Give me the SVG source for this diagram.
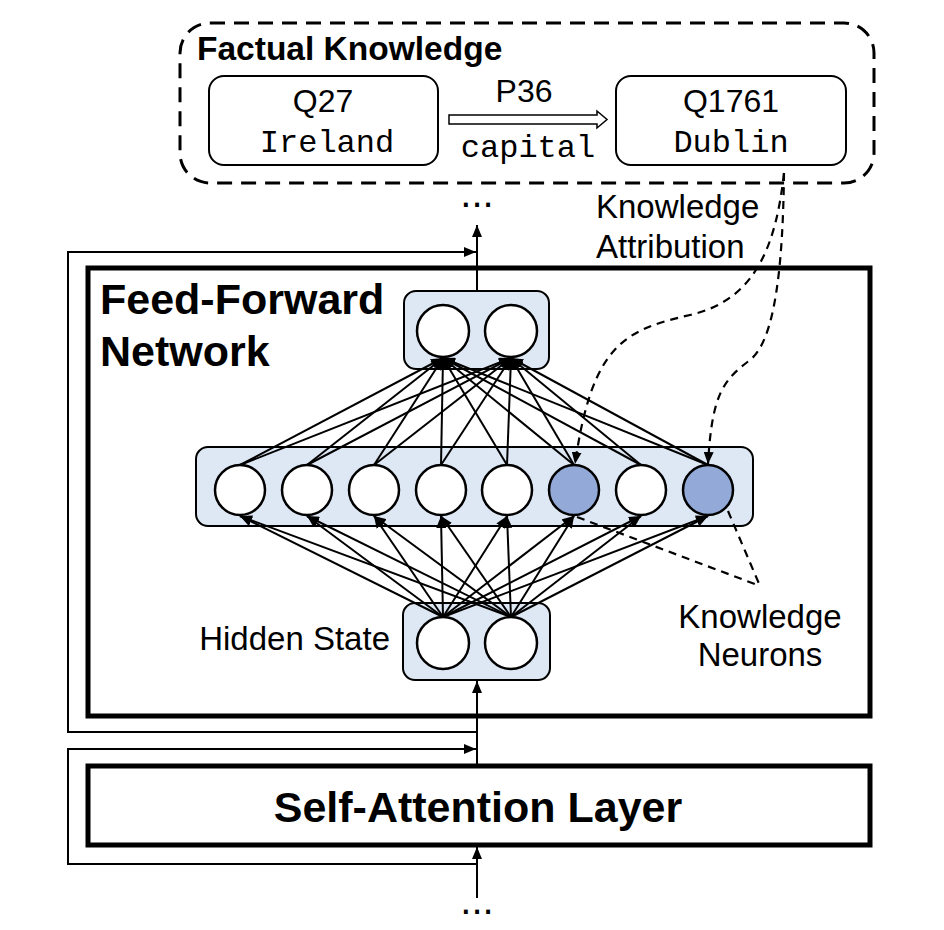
<svg xmlns="http://www.w3.org/2000/svg" width="944" height="930" viewBox="0 0 944 930">
<defs>
<marker id="ah" markerUnits="userSpaceOnUse" markerWidth="12" markerHeight="10" refX="12" refY="5" orient="auto" viewBox="0 0 12 10">
<path d="M0,0 L12,5 L0,10 z" fill="#000"/>
</marker>
</defs>
<style>
.sans{font-family:"Liberation Sans",Arial,sans-serif;fill:#000}
.bold{font-family:"Liberation Sans",Arial,sans-serif;font-weight:bold;fill:#000}
.mono{font-family:"Liberation Mono","Courier New",monospace;fill:#000}
.box{fill:#fff;stroke:#000;stroke-width:2}
.layer{fill:none;stroke:#000;stroke-width:5}
.grp{fill:#dee8f4;stroke:#000;stroke-width:2}
.n{fill:#fff;stroke:#000;stroke-width:2.5}
.kn{fill:#93aad8;stroke:#000;stroke-width:2.5}
.c{stroke:#000;stroke-width:2;fill:none}
.ca{stroke:#000;stroke-width:2;fill:none;marker-end:url(#ah)}
.d{stroke:#000;stroke-width:2.2;fill:none;stroke-dasharray:8,6}
</style>
<rect width="944" height="930" fill="#fff"/>

<g id="factual-knowledge">
<rect x="180" y="23" width="694" height="160" rx="30" fill="none" stroke="#000" stroke-width="3" stroke-dasharray="15,9"/>
<text x="197" y="60" class="bold" font-size="33.5">Factual Knowledge</text>
</g>
<g id="q27">
<rect x="209" y="76" width="229" height="89" rx="15" class="box"/>
<text x="323" y="112" class="sans" font-size="32" text-anchor="middle">Q27</text>
<text x="327" y="152" class="mono" font-size="32" text-anchor="middle">Ireland</text>
</g>
<g id="q1761">
<rect x="616" y="76" width="230" height="89" rx="15" class="box"/>
<text x="731" y="112" class="sans" font-size="32" text-anchor="middle">Q1761</text>
<text x="731" y="152" class="mono" font-size="32" text-anchor="middle">Dublin</text>
</g>
<g id="relation">
<polygon points="449,115 597,115 597,111 607,119.5 597,128 597,124 449,124" fill="#fff" stroke="#000" stroke-width="1.5"/>
<text x="524" y="102" class="sans" font-size="32" text-anchor="middle">P36</text>
<text x="528" y="157" class="mono" font-size="32" text-anchor="middle">capital</text>
</g>

<g id="labels">
<text x="477" y="207" class="sans" font-size="40" text-anchor="middle">...</text>
<text x="477" y="914" class="sans" font-size="40" text-anchor="middle">...</text>
<text x="596" y="218" class="sans" font-size="33">Knowledge</text>
<text x="596" y="258" class="sans" font-size="33">Attribution</text>
<text x="390" y="650" class="sans" font-size="33" text-anchor="end">Hidden State</text>
<text x="760" y="628" class="sans" font-size="33" text-anchor="middle">Knowledge</text>
<text x="760" y="666" class="sans" font-size="33" text-anchor="middle">Neurons</text>
</g>

<g id="ffn">
<rect x="88" y="268" width="782" height="448" class="layer"/>
<text x="100" y="314" class="bold" font-size="43">Feed-Forward</text>
<text x="100" y="366" class="bold" font-size="43">Network</text>
</g>

<g id="self-attention">
<rect x="88" y="766" width="782" height="79" class="layer"/>
<text x="478" y="822" class="bold" font-size="43" text-anchor="middle">Self-Attention Layer</text>
</g>

<g id="output-layer">
<rect x="404" y="291" width="145" height="78" rx="12" class="grp"/>
<circle cx="443" cy="331" r="26" class="n"/>
<circle cx="511" cy="331" r="26" class="n"/>
</g>

<g id="intermediate-layer">
<rect x="196" y="447" width="557" height="79" rx="12" class="grp"/>
<circle cx="240" cy="490" r="25" class="n"/>
<circle cx="307" cy="490" r="25" class="n"/>
<circle cx="374" cy="490" r="25" class="n"/>
<circle cx="441" cy="490" r="25" class="n"/>
<circle cx="507" cy="490" r="25" class="n"/>
<circle cx="574" cy="490" r="25" class="kn"/>
<circle cx="641" cy="490" r="25" class="n"/>
<circle cx="708" cy="490" r="25" class="kn"/>
</g>

<g id="hidden-state">
<rect x="403" y="603" width="147" height="77" rx="12" class="grp"/>
<circle cx="443" cy="643" r="26" class="n"/>
<circle cx="511" cy="643" r="26" class="n"/>
</g>

<g id="connectors">
<line x1="240" y1="465" x2="443" y2="358" class="ca"/>
<line x1="240" y1="465" x2="511" y2="358" class="ca"/>
<line x1="307" y1="465" x2="443" y2="358" class="ca"/>
<line x1="307" y1="465" x2="511" y2="358" class="ca"/>
<line x1="374" y1="465" x2="443" y2="358" class="ca"/>
<line x1="374" y1="465" x2="511" y2="358" class="ca"/>
<line x1="441" y1="465" x2="443" y2="358" class="ca"/>
<line x1="441" y1="465" x2="511" y2="358" class="ca"/>
<line x1="507" y1="465" x2="443" y2="358" class="ca"/>
<line x1="507" y1="465" x2="511" y2="358" class="ca"/>
<line x1="574" y1="465" x2="443" y2="358" class="ca"/>
<line x1="574" y1="465" x2="511" y2="358" class="ca"/>
<line x1="641" y1="465" x2="443" y2="358" class="ca"/>
<line x1="641" y1="465" x2="511" y2="358" class="ca"/>
<line x1="708" y1="465" x2="443" y2="358" class="ca"/>
<line x1="708" y1="465" x2="511" y2="358" class="ca"/>
<line x1="443" y1="617" x2="240" y2="516" class="ca"/>
<line x1="511" y1="617" x2="240" y2="516" class="ca"/>
<line x1="443" y1="617" x2="307" y2="516" class="ca"/>
<line x1="511" y1="617" x2="307" y2="516" class="ca"/>
<line x1="443" y1="617" x2="374" y2="516" class="ca"/>
<line x1="511" y1="617" x2="374" y2="516" class="ca"/>
<line x1="443" y1="617" x2="441" y2="516" class="ca"/>
<line x1="511" y1="617" x2="441" y2="516" class="ca"/>
<line x1="443" y1="617" x2="507" y2="516" class="ca"/>
<line x1="511" y1="617" x2="507" y2="516" class="ca"/>
<line x1="443" y1="617" x2="574" y2="516" class="ca"/>
<line x1="511" y1="617" x2="574" y2="516" class="ca"/>
<line x1="443" y1="617" x2="641" y2="516" class="ca"/>
<line x1="511" y1="617" x2="641" y2="516" class="ca"/>
<line x1="443" y1="617" x2="708" y2="516" class="ca"/>
<line x1="511" y1="617" x2="708" y2="516" class="ca"/>
<line x1="477" y1="898" x2="477" y2="847" class="ca"/>
<line x1="477" y1="766" x2="477" y2="681" class="ca"/>
<line x1="477" y1="291" x2="477" y2="225" class="ca"/>
<polyline points="477,732 68,732 68,252 476,252" class="ca"/>
<polyline points="477,864 68,864 68,749 476,749" class="ca"/>
<path d="M784,173 C 776,245 756,300 690,315 S 592,345 575,464" class="d" marker-end="url(#ah)"/>
<path d="M784,173 C 783,260 776,340 750,360 S 712,392 708,464" class="d" marker-end="url(#ah)"/>
<line x1="577" y1="517" x2="760" y2="586" class="d"/>
<line x1="728" y1="511" x2="760" y2="586" class="d"/>
</g>
</svg>
